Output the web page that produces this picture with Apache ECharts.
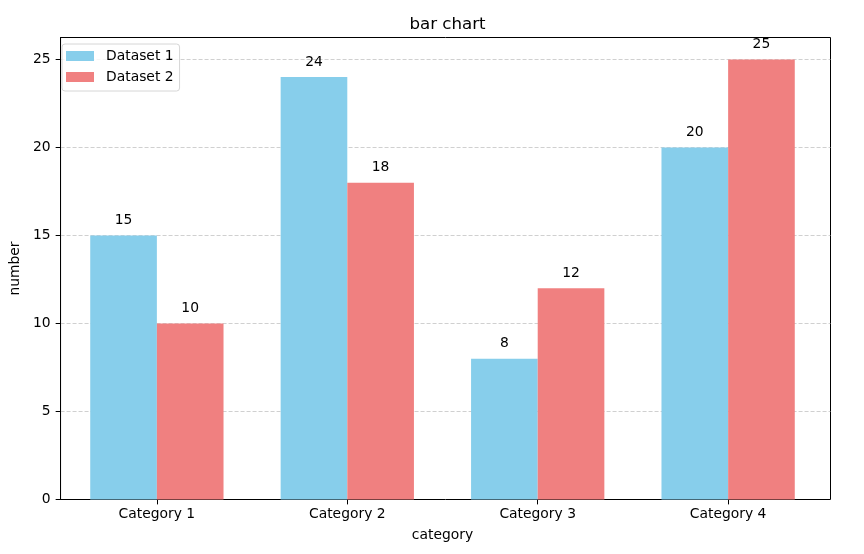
<!DOCTYPE html>
<html>
<head>
<meta charset="utf-8">
<script src="https://cdn.jsdelivr.net/npm/echarts@6/dist/echarts.min.js"></script>
<style>
html,body{margin:0;padding:0;background:#fff;}
#chart{width:864px;height:554px;}
</style>
</head>
<body>
<div id="chart"></div>
<script>
var categories = ['Category 1', 'Category 2', 'Category 3', 'Category 4'];
var dataset1 = [15, 24, 8, 20];
var dataset2 = [10, 18, 12, 25];
var seriesNames = ['Dataset 1', 'Dataset 2'];
var yTicks = [0, 5, 10, 15, 20, 25];

var FONT = 'DejaVu Sans';
var FS = 13.89;
var chart = echarts.init(document.getElementById('chart'), null, {renderer: 'canvas'});

var yMax = 26.25;
// x limits as in matplotlib: -0.535 .. 3.535, plot 55..830
var pxPerUnit = 775 / 4.07;
var inset = 0.035 * pxPerUnit;

chart.setOption({
  animation: false,
  backgroundColor: '#ffffff',
  textStyle: {fontFamily: FONT},
  title: {
    text: 'bar chart',
    left: 442.5,
    textAlign: 'center',
    top: 11,
    textStyle: {fontFamily: FONT, fontSize: 16.67, fontWeight: 'normal', color: '#000'}
  },
  legend: {
    orient: 'vertical',
    left: 62,
    top: 44,
    data: seriesNames,
    icon: 'rect',
    itemWidth: 28,
    itemHeight: 10,
    itemGap: 5,
    padding: [4, 6, 6, 4],
    backgroundColor: 'rgba(255,255,255,0.8)',
    borderColor: '#d6d6d6',
    borderWidth: 1,
    borderRadius: 3,
    textStyle: {fontFamily: FONT, fontSize: FS, color: '#000', lineHeight: 16, padding: [0, 0, 0, 7]}
  },
  grid: [
    {left: 55.5, right: 33.5, top: 37.5, bottom: 54.5, show: true, borderColor: '#000', borderWidth: 1, backgroundColor: 'transparent'},
    {left: 55 + inset, right: 34 + inset, top: 37.5, bottom: 54.5}
  ],
  xAxis: [
    {type: 'value', gridIndex: 0, min: 0, max: 1, show: false},
    {
      type: 'category', gridIndex: 1, data: categories, boundaryGap: true,
      name: 'category', nameLocation: 'middle', nameGap: 29,
      nameTextStyle: {fontFamily: FONT, fontSize: FS, color: '#000'},
      axisLine: {show: false},
      axisTick: {show: true, alignWithLabel: true, length: 4.9, lineStyle: {color: '#000', width: 1}},
      axisLabel: {fontFamily: FONT, fontSize: FS, color: '#000', margin: 8}
    }
  ],
  yAxis: [
    {
      type: 'value', gridIndex: 0, min: 0, max: yMax, interval: 5,
      name: 'number', nameLocation: 'middle', nameGap: 33,
      nameTextStyle: {fontFamily: FONT, fontSize: FS, color: '#000'},
      axisLine: {show: true, lineStyle: {color: '#000', width: 1}},
      axisTick: {show: true, length: 4.9, customValues: yTicks, lineStyle: {color: '#000', width: 1}},
      axisLabel: {fontFamily: FONT, fontSize: FS, color: '#000', margin: 10, customValues: yTicks},
      splitLine: {show: true, showMinLine: false, showMaxLine: true,
        lineStyle: {color: '#c4c4c4', width: 0.8, type: [4, 2]}}
    },
    {type: 'value', gridIndex: 1, min: 0, max: yMax, interval: 5, show: false, splitLine: {show: false}}
  ],
  series: [
    {
      name: seriesNames[0], type: 'bar', xAxisIndex: 1, yAxisIndex: 1,
      data: dataset1, barWidth: 0.35 * pxPerUnit, barGap: '0%',
      itemStyle: {color: '#87CEEB'},
      label: {show: true, position: 'top', distance: 8, fontFamily: FONT, fontSize: FS, color: '#000'}
    },
    {
      name: seriesNames[1], type: 'bar', xAxisIndex: 1, yAxisIndex: 1,
      data: dataset2, barWidth: 0.35 * pxPerUnit, barGap: '0%',
      itemStyle: {color: '#F08080'},
      label: {show: true, position: 'top', distance: 8, fontFamily: FONT, fontSize: FS, color: '#000'}
    }
  ]
});
</script>
</body>
</html>
